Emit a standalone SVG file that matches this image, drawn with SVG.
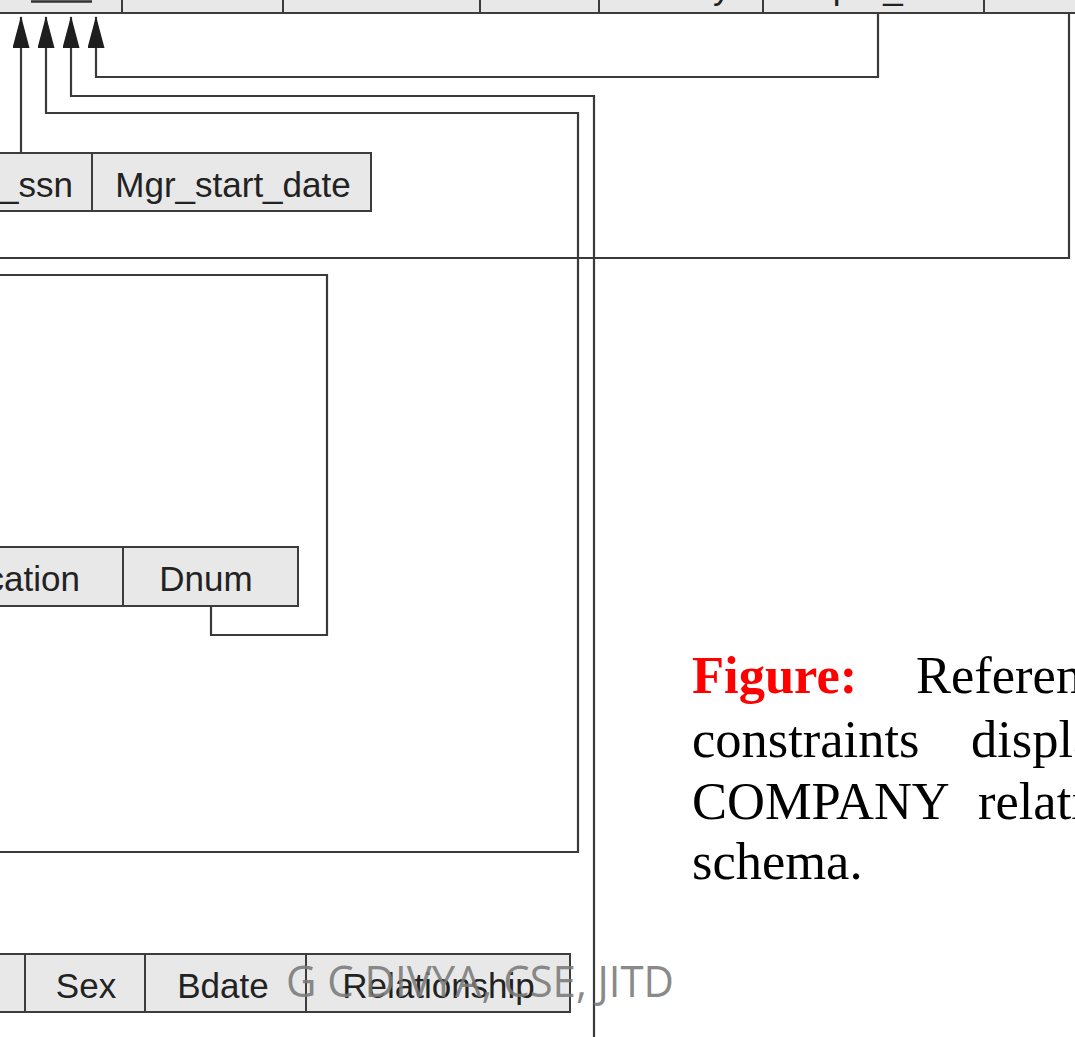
<svg xmlns="http://www.w3.org/2000/svg" width="1075" height="1037" viewBox="0 0 1075 1037">
<style>
.cell{fill:#e8e8e8;stroke:#3c3c3c;stroke-width:2}
.div{stroke:#3c3c3c;stroke-width:2}
.lbl{font-family:"Liberation Sans",Arial,sans-serif;font-size:35px;fill:#222}
.c{text-anchor:middle}
.conn{fill:none;stroke:#3a3a3a;stroke-width:2.2}
.cap{font-family:"Liberation Serif","Times New Roman",serif;font-size:52.5px;fill:#000}
.fig{font-weight:bold;fill:#ff0000}
.wm{font-family:"Open Sans","Noto Sans",sans-serif;font-size:44px;fill:#7a7a7a;fill-opacity:0.9}
</style>
<defs>
<marker id="arr" markerUnits="userSpaceOnUse" markerWidth="32" markerHeight="17" viewBox="0 0 32 17" refX="31" refY="8.5" orient="auto">
<path d="M0,0 L32,8.5 L0,17 z" fill="#1e1e1e"/>
</marker>
</defs>
<rect width="1075" height="1037" fill="#fff"/>

<g id="employee">
<rect class="cell" x="-20" y="-45" width="1120" height="58"/>
<line class="div" x1="122" y1="-45" x2="122" y2="13"/>
<line class="div" x1="283" y1="-45" x2="283" y2="13"/>
<line class="div" x1="480" y1="-45" x2="480" y2="13"/>
<line class="div" x1="599" y1="-45" x2="599" y2="13"/>
<line class="div" x1="763" y1="-45" x2="763" y2="13"/>
<line class="div" x1="984" y1="-45" x2="984" y2="13"/>
<text class="lbl c" x="61.5" y="-1">Ssn</text>
<line x1="31" y1="1.5" x2="92" y2="1.5" stroke="#333" stroke-width="2.5"/>
<text class="lbl c" x="202.5" y="-1">Bdate</text>
<text class="lbl c" x="381.5" y="-1">Address</text>
<text class="lbl c" x="539.5" y="-1">Sex</text>
<text class="lbl c" x="681" y="-1">Salary</text>
<text class="lbl c" x="873.5" y="-1">Super_ssn</text>
<text class="lbl c" x="1032" y="-1">Dno</text>
</g>

<g id="department">
<rect class="cell" x="-200" y="153" width="571" height="58"/>
<line class="div" x1="92" y1="153" x2="92" y2="211"/>
<text class="lbl" x="73" y="197" text-anchor="end">Mgr_ssn</text>
<text class="lbl c" x="233" y="197">Mgr_start_date</text>
</g>

<g id="project">
<rect class="cell" x="-200" y="547" width="498" height="59"/>
<line class="div" x1="123" y1="547" x2="123" y2="606"/>
<text class="lbl" x="80" y="591" text-anchor="end">Plocation</text>
<text class="lbl c" x="206" y="591">Dnum</text>
</g>

<g id="dependent">
<rect class="cell" x="-200" y="954" width="770" height="58"/>
<line class="div" x1="25" y1="954" x2="25" y2="1012"/>
<line class="div" x1="145" y1="954" x2="145" y2="1012"/>
<line class="div" x1="306" y1="954" x2="306" y2="1012"/>
<text class="lbl c" x="86" y="998">Sex</text>
<text class="lbl c" x="223" y="998">Bdate</text>
<text class="lbl c" x="438.5" y="998">Relationship</text>
</g>

<g id="connectors">
<path class="conn" d="M21,153 V17" marker-end="url(#arr)"/>
<path class="conn" d="M-10,852 H578 V113 H46 V17" marker-end="url(#arr)"/>
<path class="conn" d="M594,1047 V96 H71 V17" marker-end="url(#arr)"/>
<path class="conn" d="M878,14 V77 H96 V17" marker-end="url(#arr)"/>
<path class="conn" d="M1069,14 V258 H-10"/>
<path class="conn" d="M211,606 V635 H327 V275 H-10"/>
</g>

<g id="caption">
<text class="cap fig" x="692" y="693">Figure:</text>
<text class="cap" x="916" y="693">Referential</text>
<text class="cap" x="692" y="757">constraints</text>
<text class="cap" x="971" y="757">displayed</text>
<text class="cap" x="692" y="819">COMPANY</text>
<text class="cap" x="978" y="819">relational</text>
<text class="cap" x="692" y="879">schema.</text>
</g>

<text class="wm" x="286" y="997" textLength="388" lengthAdjust="spacingAndGlyphs">G C DIVYA, CSE, JITD</text>
</svg>
